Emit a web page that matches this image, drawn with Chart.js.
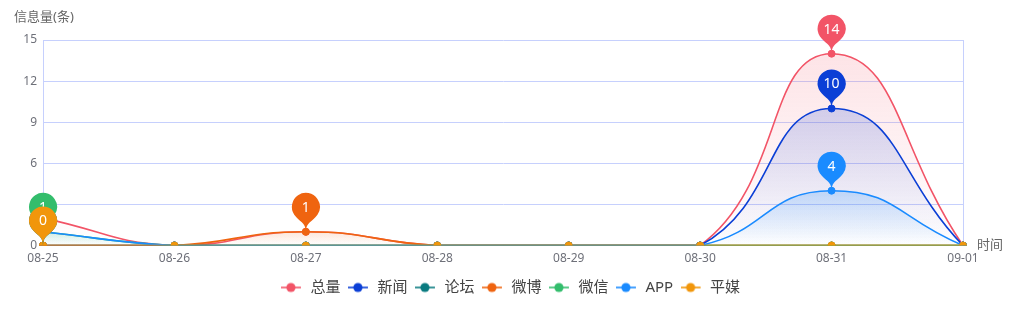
<!DOCTYPE html>
<html><head><meta charset="utf-8">
<script src="https://cdn.jsdelivr.net/npm/chart.js@4.4.0/dist/chart.umd.min.js"></script>
<style>html,body{margin:0;padding:0;background:#fff}#wrap{width:1021px;height:324px;position:relative}</style>
</head><body><div id="wrap"><canvas id="c"></canvas></div>
<script>
const categories = ['08-25','08-26','08-27','08-28','08-29','08-30','08-31','09-01'];
const seriesNames = ['总量','新闻','论坛','微博','微信','APP','平媒'];
const totalValues  = [2,0,1,0,0,0,14,0];
const newsValues   = [0,0,0,0,0,0,10,0];
const forumValues  = [0,0,0,0,0,0,0,0];
const weiboValues  = [0,0,1,0,0,0,0,0];
const wechatValues = [1,0,0,0,0,0,0,0];
const appValues    = [1,0,0,0,0,0,4,0];
const pressValues  = [0,0,0,0,0,0,0,0];
const yTicks = [0,3,6,9,12,15];
const yAxisName = '信息量(条)';
const xAxisName = '时间';

const seriesValues = [totalValues,newsValues,forumValues,weiboValues,wechatValues,appValues,pressValues];
const seriesColors = ['#f25467','#0b3fd6','#0a7b80','#ef6410','#33bd6c','#1a8bff','#f1960b'];
const lineAlpha = [1,1,1,1,1,1,0.55];
const FONT = "'Noto Sans','Noto Sans CJK SC',sans-serif";
const GRID = '#c6d0fd';

function rgba(hex,a){const n=parseInt(hex.slice(1),16);return `rgba(${n>>16&255},${n>>8&255},${n&255},${a})`;}
const fillAlpha = [0.16,0.18,0.15,0.15,0.18,0.22,0.15];

function makeIcon(color){
  const c=document.createElement('canvas');c.width=22;c.height=12;
  const g=c.getContext('2d');
  g.strokeStyle=color;g.lineWidth=1.6;g.beginPath();g.moveTo(0,6);g.lineTo(20,6);g.stroke();
  g.fillStyle=color;g.beginPath();g.arc(10,6,4.6,0,Math.PI*2);g.fill();
  return c;
}
const icons = seriesColors.map(makeIcon);

const datasets = seriesNames.map((name,i)=>({
  label:name,
  data:seriesValues[i],
  borderColor:rgba(seriesColors[i],lineAlpha[i]),
  pointBackgroundColor:seriesColors[i],
  pointBorderColor:seriesColors[i],
  pointRadius:3.5,
  pointBorderWidth:1,
  borderWidth:i===6?2:1.6,
  tension:0.5,
  fill:'origin',
  order:seriesNames.length-1-i,
  backgroundColor:(ctx)=>{
    const chart=ctx.chart;const area=chart.chartArea;
    if(!area||!chart.scales.y) return 'rgba(0,0,0,0)';
    const mx=Math.max(...seriesValues[i]);
    let top=chart.scales.y.getPixelForValue(mx);
    const bottom=chart.scales.y.getPixelForValue(0);
    if(top>=bottom-1) top=bottom-1;
    const g=chart.ctx.createLinearGradient(0,top,0,bottom);
    g.addColorStop(0,rgba(seriesColors[i],fillAlpha[i]));
    g.addColorStop(1,rgba(seriesColors[i],0));
    return g;
  }
}));

function pinPath(ctx,x,tipY,r,d){
  const cy=tipY-d;
  const dy=r*r/d;
  const angle=Math.asin(dy/r);
  const dx=Math.cos(angle)*r;
  const tanX=Math.sin(angle),tanY=Math.cos(angle);
  const cp=r*0.6,cp2=r*0.7;
  ctx.beginPath();
  ctx.moveTo(x-dx,cy+dy);
  ctx.arc(x,cy,r,Math.PI-angle,Math.PI*2+angle);
  ctx.bezierCurveTo(x+dx-tanX*cp,cy+dy+tanY*cp,x,tipY-cp2,x,tipY);
  ctx.bezierCurveTo(x,tipY-cp2,x-dx+tanX*cp,cy+dy+tanY*cp,x-dx,cy+dy);
  ctx.closePath();
  return cy;
}

const pinPlugin = {
  id:'pins',
  afterDraw(chart){
    const ctx=chart.ctx;
    ctx.save();
    seriesValues.forEach((vals,i)=>{
      const mx=Math.max(...vals);
      const idx=vals.indexOf(mx);
      const pt=chart.getDatasetMeta(i).data[idx];
      if(!pt) return;
      ctx.fillStyle=seriesColors[i];
      const cy=pinPath(ctx,pt.x,pt.y,14,25);
      ctx.fill();
      ctx.fillStyle='#fff';
      ctx.font='14px '+FONT;
      ctx.textAlign='center';ctx.textBaseline='middle';
      ctx.fillText(String(mx),pt.x,cy+1);
    });
    ctx.fillStyle='#666';
    ctx.font='13px '+FONT;
    ctx.textAlign='left';ctx.textBaseline='middle';
    ctx.fillText(yAxisName,14,17);
    const ys=chart.scales.y, xs=chart.scales.x;
    ctx.fillText(xAxisName,xs.right+14,ys.getPixelForValue(0));
    ctx.restore();
  }
};

new Chart(document.getElementById('c'),{
  type:'line',
  data:{labels:categories,datasets},
  plugins:[pinPlugin],
  options:{
    responsive:true,maintainAspectRatio:false,animation:false,
    layout:{padding:{left:0,top:40,right:0,bottom:19}},
    plugins:{
      tooltip:{enabled:false},
      legend:{
        position:'bottom',
        labels:{
          usePointStyle:true,pointStyleWidth:22,padding:7.5,
          color:'#444',font:{family:FONT,size:15},
          generateLabels:(chart)=>chart.data.datasets.map((ds,i)=>({
            text:ds.label,pointStyle:icons[i],fillStyle:seriesColors[i],strokeStyle:seriesColors[i],
            lineWidth:0,hidden:false,datasetIndex:i,fontColor:'#444'
          }))
        }
      }
    },
    scales:{
      x:{
        offset:false,
        grid:{drawTicks:false,color:(c)=>c.index===categories.length-1?GRID:'rgba(0,0,0,0)',lineWidth:1},
        border:{display:true,color:GRID},
        ticks:{padding:6,color:'#6e7079',font:{family:FONT,size:12},maxRotation:0,autoSkip:false},
        afterFit:(s)=>{s.height=27;}
      },
      y:{
        min:0,max:15,
        afterBuildTicks:(s)=>{s.ticks=yTicks.map(v=>({value:v}));},
        grid:{drawTicks:false,color:GRID,lineWidth:1},
        border:{display:true,color:GRID},
        ticks:{padding:6,color:'#6e7079',font:{family:FONT,size:12}},
        afterFit:(s)=>{s.width=43;}
      },
      yRight:{
        position:'right',display:true,min:0,max:15,
        grid:{display:false,drawTicks:false},
        border:{display:false},
        ticks:{display:false},
        afterFit:(s)=>{s.width=58;}
      }
    }
  }
});
</script>
</body></html>
